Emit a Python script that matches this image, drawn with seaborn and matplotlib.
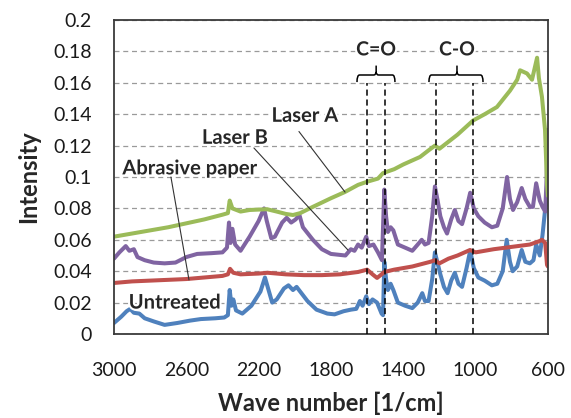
import matplotlib
matplotlib.use("Agg")
import matplotlib.pyplot as plt
import matplotlib.patheffects as pe
from matplotlib.path import Path
from matplotlib.patches import PathPatch
from matplotlib.ticker import FuncFormatter
import seaborn as sns
import pandas as pd

# Spectra: wave number [1/cm] and intensity
wn_untreated = [3000, 2960, 2930, 2910, 2890, 2860, 2830, 2780, 2720, 2650, 2580, 2520, 2440, 2390,
                2370, 2360, 2350, 2340, 2325, 2290, 2240, 2190, 2165, 2150, 2125, 2100, 2060, 2035,
                2010, 1990, 1970, 1930, 1880, 1820, 1780, 1730, 1690, 1660, 1640, 1625, 1605, 1590,
                1570, 1545, 1520, 1512, 1505, 1495, 1485, 1470, 1455, 1430, 1390, 1350, 1320, 1295,
                1280, 1260, 1240, 1225, 1210, 1195, 1175, 1155, 1135, 1115, 1095, 1075, 1050, 1030,
                1010, 985, 950, 910, 880, 850, 828, 810, 795, 770, 745, 725, 700, 680, 665, 645,
                630, 615, 605, 600]
int_untreated = [0.007, 0.011, 0.0145, 0.016, 0.0135, 0.013, 0.010, 0.008, 0.0058, 0.007, 0.0085,
                 0.0095, 0.010, 0.0105, 0.012, 0.028, 0.018, 0.022, 0.015, 0.013, 0.018, 0.027, 0.036,
                 0.030, 0.020, 0.022, 0.029, 0.031, 0.028, 0.030, 0.027, 0.021, 0.0155, 0.013, 0.0125,
                 0.0145, 0.0155, 0.016, 0.021, 0.018, 0.024, 0.019, 0.022, 0.020, 0.013, 0.012, 0.046,
                 0.035, 0.028, 0.032, 0.028, 0.020, 0.018, 0.0165, 0.020, 0.026, 0.021, 0.021, 0.035,
                 0.052, 0.045, 0.038, 0.030, 0.026, 0.034, 0.039, 0.032, 0.030, 0.042, 0.053, 0.042,
                 0.036, 0.034, 0.031, 0.032, 0.040, 0.060, 0.046, 0.040, 0.043, 0.0535, 0.046, 0.045,
                 0.047, 0.057, 0.050, 0.063, 0.080, 0.085, 0.088]

wn_laser_b = [3000, 2970, 2935, 2915, 2890, 2870, 2830, 2780, 2720, 2660, 2600, 2540, 2460, 2400,
              2375, 2364, 2355, 2345, 2330, 2300, 2250, 2200, 2170, 2155, 2130, 2110, 2070, 2045,
              2020, 1995, 1975, 1955, 1900, 1850, 1800, 1760, 1720, 1690, 1670, 1650, 1630, 1605,
              1590, 1565, 1540, 1518, 1505, 1495, 1485, 1470, 1455, 1430, 1390, 1350, 1320, 1298,
              1280, 1260, 1240, 1225, 1210, 1195, 1175, 1158, 1135, 1115, 1095, 1075, 1050, 1030,
              1010, 985, 950, 910, 880, 850, 826, 810, 793, 770, 745, 725, 700, 683, 665, 645,
              630, 615, 607, 602, 600]
int_laser_b = [0.048, 0.052, 0.056, 0.053, 0.054, 0.049, 0.047, 0.0455, 0.045, 0.0455, 0.049, 0.051,
               0.0515, 0.052, 0.055, 0.071, 0.058, 0.067, 0.057, 0.053, 0.062, 0.072, 0.080, 0.072,
               0.061, 0.062, 0.071, 0.074, 0.071, 0.073, 0.076, 0.068, 0.060, 0.054, 0.051, 0.0505,
               0.050, 0.054, 0.053, 0.057, 0.055, 0.062, 0.056, 0.057, 0.052, 0.047, 0.092, 0.075,
               0.065, 0.068, 0.066, 0.057, 0.055, 0.053, 0.057, 0.060, 0.057, 0.058, 0.075, 0.094,
               0.085, 0.075, 0.068, 0.064, 0.073, 0.079, 0.072, 0.070, 0.080, 0.090, 0.080, 0.075,
               0.071, 0.068, 0.069, 0.080, 0.100, 0.086, 0.079, 0.084, 0.093, 0.086, 0.081, 0.081,
               0.096, 0.085, 0.081, 0.078, 0.100, 0.130, 0.130]

wn_abrasive = [3000, 2900, 2800, 2700, 2600, 2500, 2400, 2370, 2358, 2340, 2300, 2200, 2150, 2050,
               1950, 1850, 1750, 1650, 1600, 1570, 1545, 1520, 1505, 1450, 1350, 1250, 1225, 1200,
               1150, 1100, 1031, 1000, 900, 800, 700, 650, 633, 615, 605, 600]
int_abrasive = [0.0325, 0.0335, 0.034, 0.0345, 0.035, 0.036, 0.037, 0.038, 0.0415, 0.039, 0.038,
                0.0385, 0.039, 0.038, 0.0375, 0.0375, 0.038, 0.0395, 0.041, 0.038, 0.0357, 0.038,
                0.0395, 0.041, 0.043, 0.046, 0.047, 0.045, 0.048, 0.050, 0.0535, 0.052, 0.054,
                0.0555, 0.057, 0.059, 0.060, 0.058, 0.044, 0.043]

wn_laser_a = [3000, 2900, 2800, 2700, 2600, 2500, 2400, 2370, 2360, 2345, 2300, 2250, 2154, 2100,
              2050, 2010, 1970, 1900, 1800, 1722, 1650, 1600, 1540, 1512, 1450, 1400, 1307, 1260,
              1225, 1200, 1100, 1014, 950, 882, 810, 770, 754, 716, 688, 660, 650, 633, 616, 605, 600]
int_laser_a = [0.062, 0.064, 0.066, 0.068, 0.0705, 0.073, 0.076, 0.077, 0.085, 0.080, 0.078, 0.079,
               0.0795, 0.078, 0.0765, 0.0758, 0.077, 0.081, 0.0865, 0.0905, 0.095, 0.097, 0.099,
               0.1025, 0.105, 0.108, 0.1128, 0.117, 0.120, 0.118, 0.127, 0.136, 0.140, 0.1446,
               0.155, 0.162, 0.168, 0.166, 0.162, 0.176, 0.163, 0.151, 0.130, 0.095, 0.088]

series_names = ["Untreated", "Abrasive paper", "Laser B", "Laser A"]
series_colors = ["#4F81BD", "#C0504D", "#8064A2", "#9BBB59"]

x_ticks = [3000, 2600, 2200, 1800, 1400, 1000, 600]
y_ticks = [0, 0.02, 0.04, 0.06, 0.08, 0.1, 0.12, 0.14, 0.16, 0.18, 0.2]

# Band markers (dashed lines) and the braces above them
band_lines = [1600, 1500, 1220, 1015]
band_labels = ["C=O", "C-O"]
band_spans = [(1656, 1446, 1550), (1258, 959, 1103)]

# Label text, text position, leader line end
label_names = ["Laser A", "Laser B", "Abrasive paper", "Untreated"]
label_pos = [(1944, 0.139), (2331, 0.125), (2580, 0.1055), (2663, 0.0200)]
leader_start = [(1977, 0.129), (2226, 0.1185), (2685, 0.100), None]
leader_end = [(1722, 0.0904), (1706, 0.0535), (2585, 0.0344), None]

frames = []
for name, wn, val in [("Untreated", wn_untreated, int_untreated),
                      ("Abrasive paper", wn_abrasive, int_abrasive),
                      ("Laser B", wn_laser_b, int_laser_b),
                      ("Laser A", wn_laser_a, int_laser_a)]:
    frames.append(pd.DataFrame({"wn": wn, "intensity": val, "sample": name}))
df = pd.concat(frames, ignore_index=True)

sns.set_style("white")
plt.rcParams["font.family"] = ["Lato", "DejaVu Sans"]

fig = plt.figure(figsize=(5.71, 4.18), dpi=100)
ax = fig.add_axes([0.1996, 0.201, 0.760, 0.751])

sns.lineplot(data=df, x="wn", y="intensity", hue="sample", hue_order=series_names,
             palette=series_colors, estimator=None, linewidth=2.9, legend=False, ax=ax, zorder=2)

ax.set_xlim(3000, 600)
ax.set_ylim(0, 0.2)
ax.set_xticks(x_ticks)
ax.set_yticks(y_ticks)
ax.yaxis.set_major_formatter(FuncFormatter(lambda v, p: f"{v:g}"))
ax.yaxis.grid(True, color="#9a9a9a", linestyle=(0, (4, 3)), linewidth=0.9)
ax.set_axisbelow(True)
for s in ax.spines.values():
    s.set_color("#3a3a3a")
    s.set_linewidth(1.3)
ax.tick_params(axis="x", direction="out", length=6, width=1, color="#3a3a3a",
               labelsize=14, pad=14, labelcolor="#1a1a1a")
ax.tick_params(axis="y", direction="out", length=4, width=1, color="#3a3a3a",
               labelsize=14, pad=12, labelcolor="#1a1a1a")

ax.set_xlabel("Wave number [1/cm]", fontsize=17, fontweight="bold", labelpad=9)
ax.set_ylabel("Intensity", fontsize=17, fontweight="bold", labelpad=9)

# dashed band lines
ax.vlines(band_lines, 0, 0.16, colors="black", linestyles=(0, (4, 2.5)), linewidth=1.1, zorder=3)

# braces
y_end, y_bar, y_tip, r, dy = 0.1605, 0.165, 0.171, 14, 0.002
for (xl, xr, xm), lab in zip(band_spans, band_labels):
    verts = [(xl, y_end), (xl, y_bar), (xl - r, y_bar), (xm + r, y_bar), (xm, y_bar),
             (xm, y_bar + dy), (xm, y_tip),
             (xm, y_bar + dy), (xm, y_bar), (xm - r, y_bar), (xr + r, y_bar), (xr, y_bar),
             (xr, y_end)]
    codes = [Path.MOVETO, Path.CURVE3, Path.CURVE3, Path.LINETO, Path.CURVE3, Path.CURVE3,
             Path.LINETO, Path.MOVETO, Path.CURVE3, Path.CURVE3, Path.LINETO, Path.CURVE3,
             Path.CURVE3]
    ax.add_patch(PathPatch(Path(verts, codes), facecolor="none", edgecolor="black",
                           linewidth=1.1, zorder=3))
    ax.text(xm, 0.181, lab, ha="center", va="center", fontsize=14, fontweight="bold",
            zorder=4, path_effects=[pe.withStroke(linewidth=3, foreground="white")])

# series labels with leader lines
for lab, pos, p0, p1 in zip(label_names, label_pos, leader_start, leader_end):
    ax.text(pos[0], pos[1], lab, ha="center", va="center", fontsize=14.5, fontweight="bold",
            zorder=4, path_effects=[pe.withStroke(linewidth=3, foreground="white")])
    if p0 is not None:
        ax.plot([p0[0], p1[0]], [p0[1], p1[1]], color="#333333", linewidth=0.8, zorder=4)

fig.savefig("out.png", dpi=100)
